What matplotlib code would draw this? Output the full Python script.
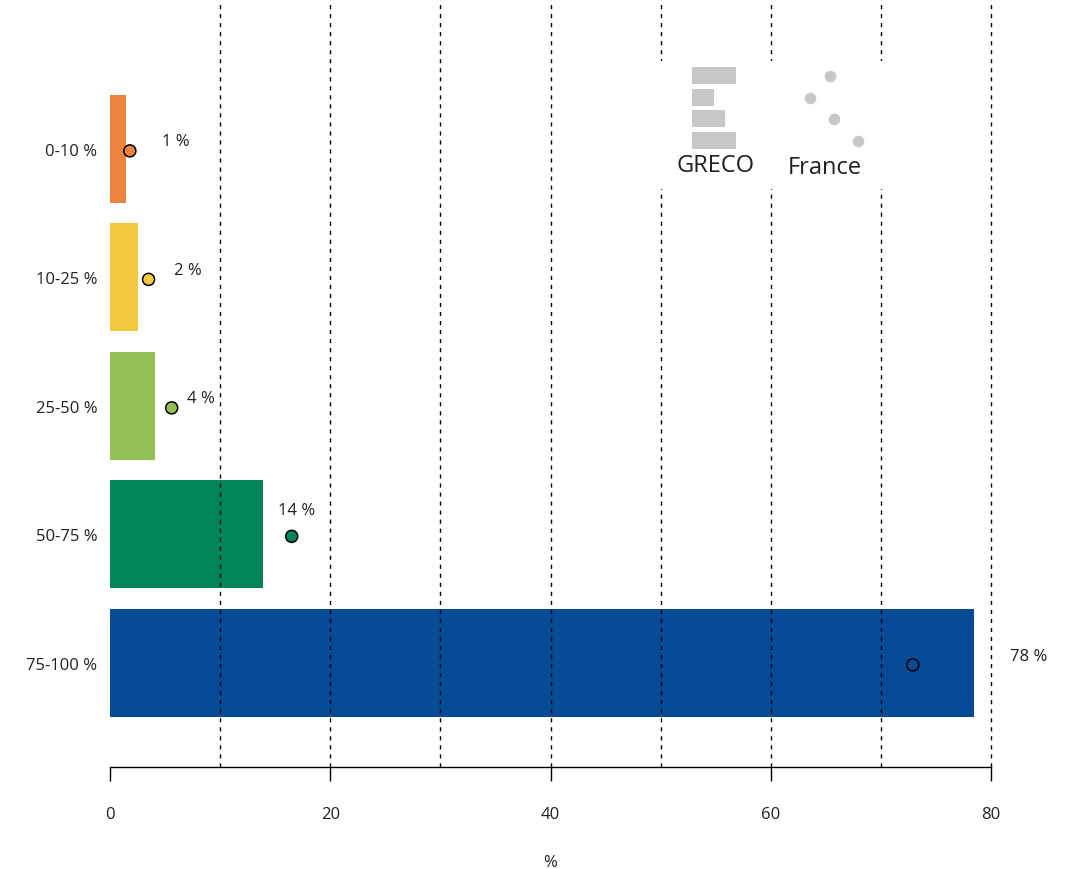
import matplotlib
matplotlib.use('Agg')
import matplotlib.pyplot as plt

plt.rcParams['font.family'] = ['Open Sans', 'DejaVu Sans']

# data
categories = ['0-10 %', '10-25 %', '25-50 %', '50-75 %', '75-100 %']
greco = [1.45, 2.5, 4.1, 13.9, 78.5]
france = [1.8, 3.5, 5.6, 16.5, 72.9]
greco_labels = ['1 %', '2 %', '4 %', '14 %', '78 %']
colors = ['#EE833E', '#F4C942', '#93C156', '#008556', '#074A96']
xticks = [0, 20, 40, 60, 80]
grid_x = [10, 20, 30, 40, 50, 60, 70, 80]

# label offsets (pixels) from the France dot
label_offsets = [(46, 8), (39, 7), (29, 8), (5, 24), (116, 7)]

txt = '#231F20'
gray = '#C6C7C8'

W, H = 1073, 870
fig = plt.figure(figsize=(W / 100, H / 100), dpi=100)
ax = fig.add_axes([110 / W, 1 - 768 / H, (991 - 110) / W, 768 / H])

ypos = list(range(len(categories)))
ax.barh(ypos, greco, height=0.84, color=colors, zorder=2)
for x in grid_x:
    ax.axvline(x, color='black', lw=1.0, ls=(0, (3, 3.5)), zorder=3, clip_on=False)
ax.scatter(france, [y + 0.015 for y in ypos], s=75, c=colors, edgecolors='black',
           linewidths=1.1, zorder=4)

for i, lab in enumerate(greco_labels):
    dx, dy = label_offsets[i]
    ax.annotate(lab, (france[i], ypos[i]), xytext=(dx, dy), textcoords='offset pixels',
                ha='center', va='center', fontsize=12, color=txt, zorder=5,
                annotation_clip=False)

ax.set_xlim(0, 80)
ax.set_ylim(4.81, -1.167)
ax.set_yticks(ypos)
ax.set_yticklabels(categories)
ax.set_xticks(xticks)
ax.tick_params(axis='y', length=0, pad=9, labelsize=12, labelcolor=txt)
ax.tick_params(axis='x', length=10, width=1.0, pad=18, labelsize=12, labelcolor=txt)
ax.set_xlabel('%', fontsize=12, color=txt, labelpad=23)
for s in ['top', 'right', 'left']:
    ax.spines[s].set_visible(False)
ax.spines['bottom'].set_linewidth(1.0)

# legend block
lax = fig.add_axes([645 / W, 1 - 190 / H, 250 / W, 128 / H])
lax.set_xlim(645, 895)
lax.set_ylim(190, 62)
lax.set_facecolor('white')
lax.set_xticks([])
lax.set_yticks([])
for s in lax.spines.values():
    s.set_visible(False)

legend_bar_widths = [44, 22, 33, 44]
legend_rows = [76.5, 98.5, 119.5, 141.5]
legend_dot_x = [830, 810, 834, 858]
lax.barh(legend_rows, legend_bar_widths, left=692, height=17, color=gray)
lax.scatter(legend_dot_x, [77, 99, 120, 142], s=70, color=gray, linewidths=0)
lax.text(716, 166, 'GRECO', ha='center', va='center', fontsize=17, color=txt)
lax.text(825, 168, 'France', ha='center', va='center', fontsize=17, color=txt)

fig.savefig('out.png', dpi=100)
